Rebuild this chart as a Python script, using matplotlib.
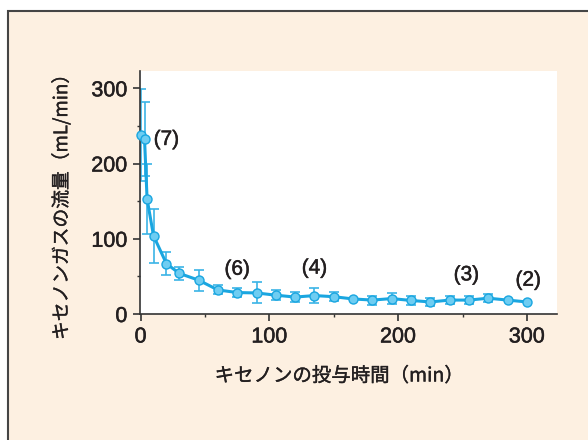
import numpy as np
import matplotlib
matplotlib.use('Agg')
import matplotlib.pyplot as plt
import matplotlib.patheffects as pe
from matplotlib.patches import Rectangle

# 読み取った値
time_min = [0, 3, 5, 10, 20, 30, 45, 60, 75, 90, 105, 120, 135, 150, 165,
            180, 195, 210, 225, 240, 255, 270, 285, 300]
flow = [238, 233, 153, 104, 67, 54, 45, 32, 28.5, 28, 25, 22.5, 24.5, 23, 20,
        18.5, 20.5, 18, 16, 18.5, 18.5, 21, 18.5, 16]
flow_err = [61, 49, 46, 36, 15.5, 9, 14, 6, 5.5, 14, 7, 6.5, 9.5, 6, 0,
            6, 7, 5.5, 5, 5.5, 5.5, 5.5, 0, 0]

note_text = ['(7)', '(6)', '(4)', '(3)', '(2)']
note_x = [20, 75, 135, 253, 301]
note_y = [232, 59.5, 61, 52, 45]

xlabel = 'キセノンの投与時間（min）'
ylabel = 'キセノンガスの流量（mL/min）'

jp = ['Noto Sans CJK JP', 'DejaVu Sans']
num = ['Liberation Sans', 'DejaVu Sans']
dark = '#231f20'
blue = '#1aa6e0'
thick = [pe.withStroke(linewidth=0.35, foreground=dark)]
thin = [pe.withStroke(linewidth=0.25, foreground=dark)]

fig = plt.figure(figsize=(5.88, 4.40), dpi=100, facecolor='white')
fig.patches.append(Rectangle((8 / 588, -0.05), 1.1, 1 - 11 / 440 + 0.05,
                             transform=fig.transFigure, facecolor='#fdf0e1',
                             edgecolor='#454545', linewidth=1.5, zorder=-5))

ax = fig.add_axes([140 / 588, 1 - 314 / 440, 416.5 / 588, 243 / 440])
ax.set_facecolor('white')

t = np.array(time_min)
f = np.array(flow)
e = np.array(flow_err)
m = e > 0
ax.errorbar(t[m], f[m], yerr=e[m], fmt='none', ecolor='#3bb4e6',
            elinewidth=1.2, capsize=3.6, capthick=1.2, zorder=2)
ax.plot(t, f, color=blue, lw=2.2, marker='o', ms=6.5,
        markerfacecolor='#6ecdf2', markeredgecolor=blue, markeredgewidth=1.0,
        zorder=3, clip_on=False)

for s, x, y in zip(note_text, note_x, note_y):
    ax.text(x, y, s, ha='center', va='center', fontsize=15, color=dark,
            family=num, path_effects=thick)

ax.set_xlim(-0.5, 323)
ax.set_ylim(0, 323)
ax.set_xticks([0, 100, 200, 300])
ax.set_yticks([0, 100, 200, 300])
ax.set_xticks([50, 150, 250], minor=True)
ax.set_yticks([50, 150, 250], minor=True)

for side in ['top', 'right']:
    ax.spines[side].set_visible(False)
for side in ['left', 'bottom']:
    ax.spines[side].set_color('#333333')
    ax.spines[side].set_linewidth(1.2)

ax.tick_params(which='major', direction='out', length=5, width=1.2,
               color='#333333', labelsize=15.5, labelcolor=dark, pad=4)
ax.tick_params(which='minor', direction='out', length=2.5, width=1.0,
               color='#333333')
for lab in ax.get_xticklabels() + ax.get_yticklabels():
    lab.set_family(num)
    lab.set_path_effects(thick)

ax.set_xlabel(xlabel, family=jp, fontsize=14, color=dark, va='center',
              path_effects=thin)
ax.set_ylabel(ylabel, family=jp, fontsize=13.5, color=dark, va='center',
              path_effects=thin)
ax.xaxis.set_label_coords(0.479, (314 - 376) / 243)
ax.yaxis.set_label_coords((61.7 - 140) / 416.5, 0.459)

fig.savefig('out.png', dpi=100, facecolor=fig.get_facecolor())
